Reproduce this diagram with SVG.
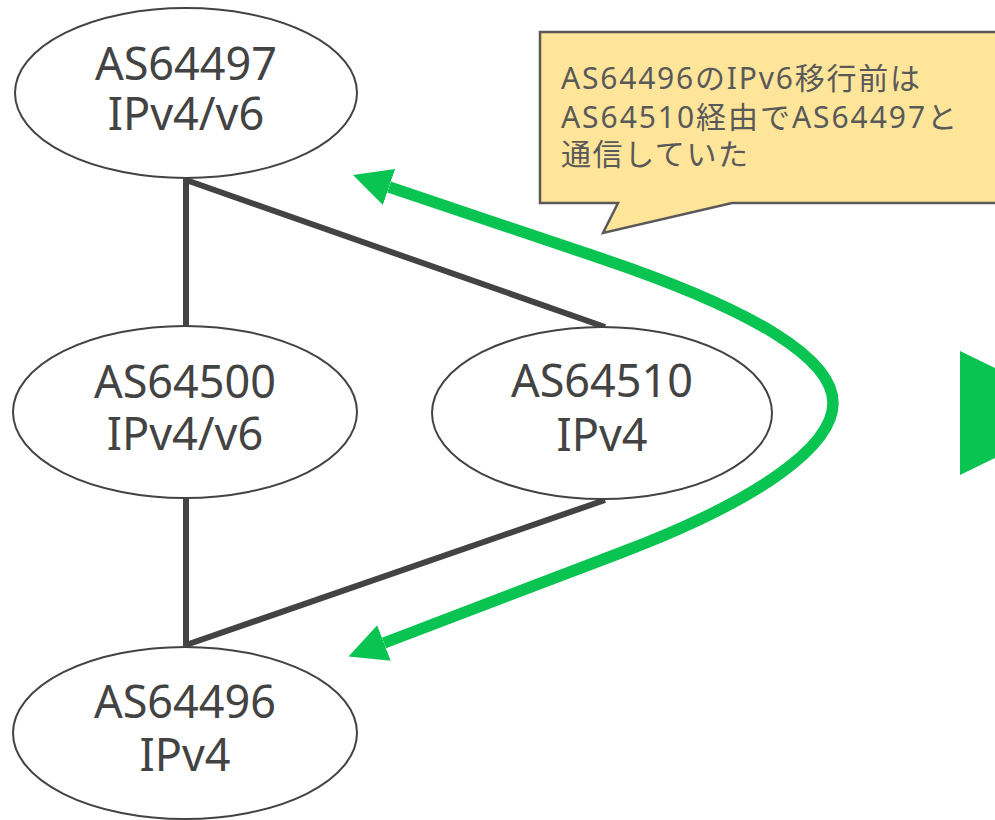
<svg xmlns="http://www.w3.org/2000/svg" width="995" height="820" viewBox="0 0 995 820">
  <style>
    .node ellipse { fill: #ffffff; stroke: #434343; stroke-width: 2; }
    .node text { font-family: "Noto Sans", "Liberation Sans", sans-serif; font-size: 45px; fill: #434343; text-anchor: middle; }
    .link { stroke: #434343; stroke-width: 6; fill: none; stroke-linecap: butt; }
    .route { stroke: #0ac452; stroke-width: 11.5; fill: none; }
    .note-shape { fill: #ffe599; stroke: #595959; stroke-width: 2.5; }
    .note-text { font-family: "Noto Sans", "Noto Sans CJK JP", sans-serif; font-size: 30px; fill: #595959; }
  </style>
  <defs>
    <marker id="head" markerUnits="userSpaceOnUse" viewBox="0 0 38 38" markerWidth="38" markerHeight="38" refX="0" refY="19" orient="auto-start-reverse">
      <path d="M0,0 L38,19 L0,38 z" fill="#0ac452"/>
    </marker>
  </defs>

  <rect width="995" height="820" fill="#ffffff"/>

  <!-- links between ASes -->
  <g id="links">
    <line class="link" x1="186" y1="179" x2="186" y2="326"/>
    <line class="link" x1="186" y1="180" x2="605" y2="327"/>
    <line class="link" x1="186" y1="499" x2="186" y2="646"/>
    <line class="link" x1="186" y1="645" x2="605" y2="500"/>
    <!-- old path via AS64510 -->
    <path class="route" d="M389,187 L600,258 C760,312 833,360 833,403 C833,446 760,500 620,553 L384,643" marker-start="url(#head)" marker-end="url(#head)"/>
  </g>

  <g id="as64497" class="node">
    <ellipse cx="186" cy="93" rx="171" ry="85"/>
    <text x="186" y="80">AS64497</text>
    <text x="186" y="130">IPv4/v6</text>
  </g>

  <g id="as64500" class="node">
    <ellipse cx="185" cy="412" rx="172" ry="86"/>
    <text x="185" y="398">AS64500</text>
    <text x="185" y="450">IPv4/v6</text>
  </g>

  <g id="as64510" class="node">
    <ellipse cx="602" cy="413" rx="170" ry="86"/>
    <text x="602" y="397">AS64510</text>
    <text x="602" y="451">IPv4</text>
  </g>

  <g id="as64496" class="node">
    <ellipse cx="185" cy="733" rx="172" ry="86"/>
    <text x="185" y="718">AS64496</text>
    <text x="185" y="771">IPv4</text>
  </g>

  <!-- callout -->
  <g id="note">
    <path class="note-shape" d="M540,32 H1000 V203 H732 L603,233 L618,203 H540 Z"/>
    <text class="note-text" x="561" y="89" textLength="359" lengthAdjust="spacing">AS64496のIPv6移行前は</text>
    <text class="note-text" x="561" y="128" textLength="396" lengthAdjust="spacing">AS64510経由でAS64497と</text>
    <text class="note-text" x="561" y="165" textLength="187" lengthAdjust="spacing">通信していた</text>
  </g>

  <!-- next-step arrow at the edge -->
  <g id="next">
    <polygon points="960,351 1088,413 960,475" fill="#0ac452"/>
  </g>
</svg>
